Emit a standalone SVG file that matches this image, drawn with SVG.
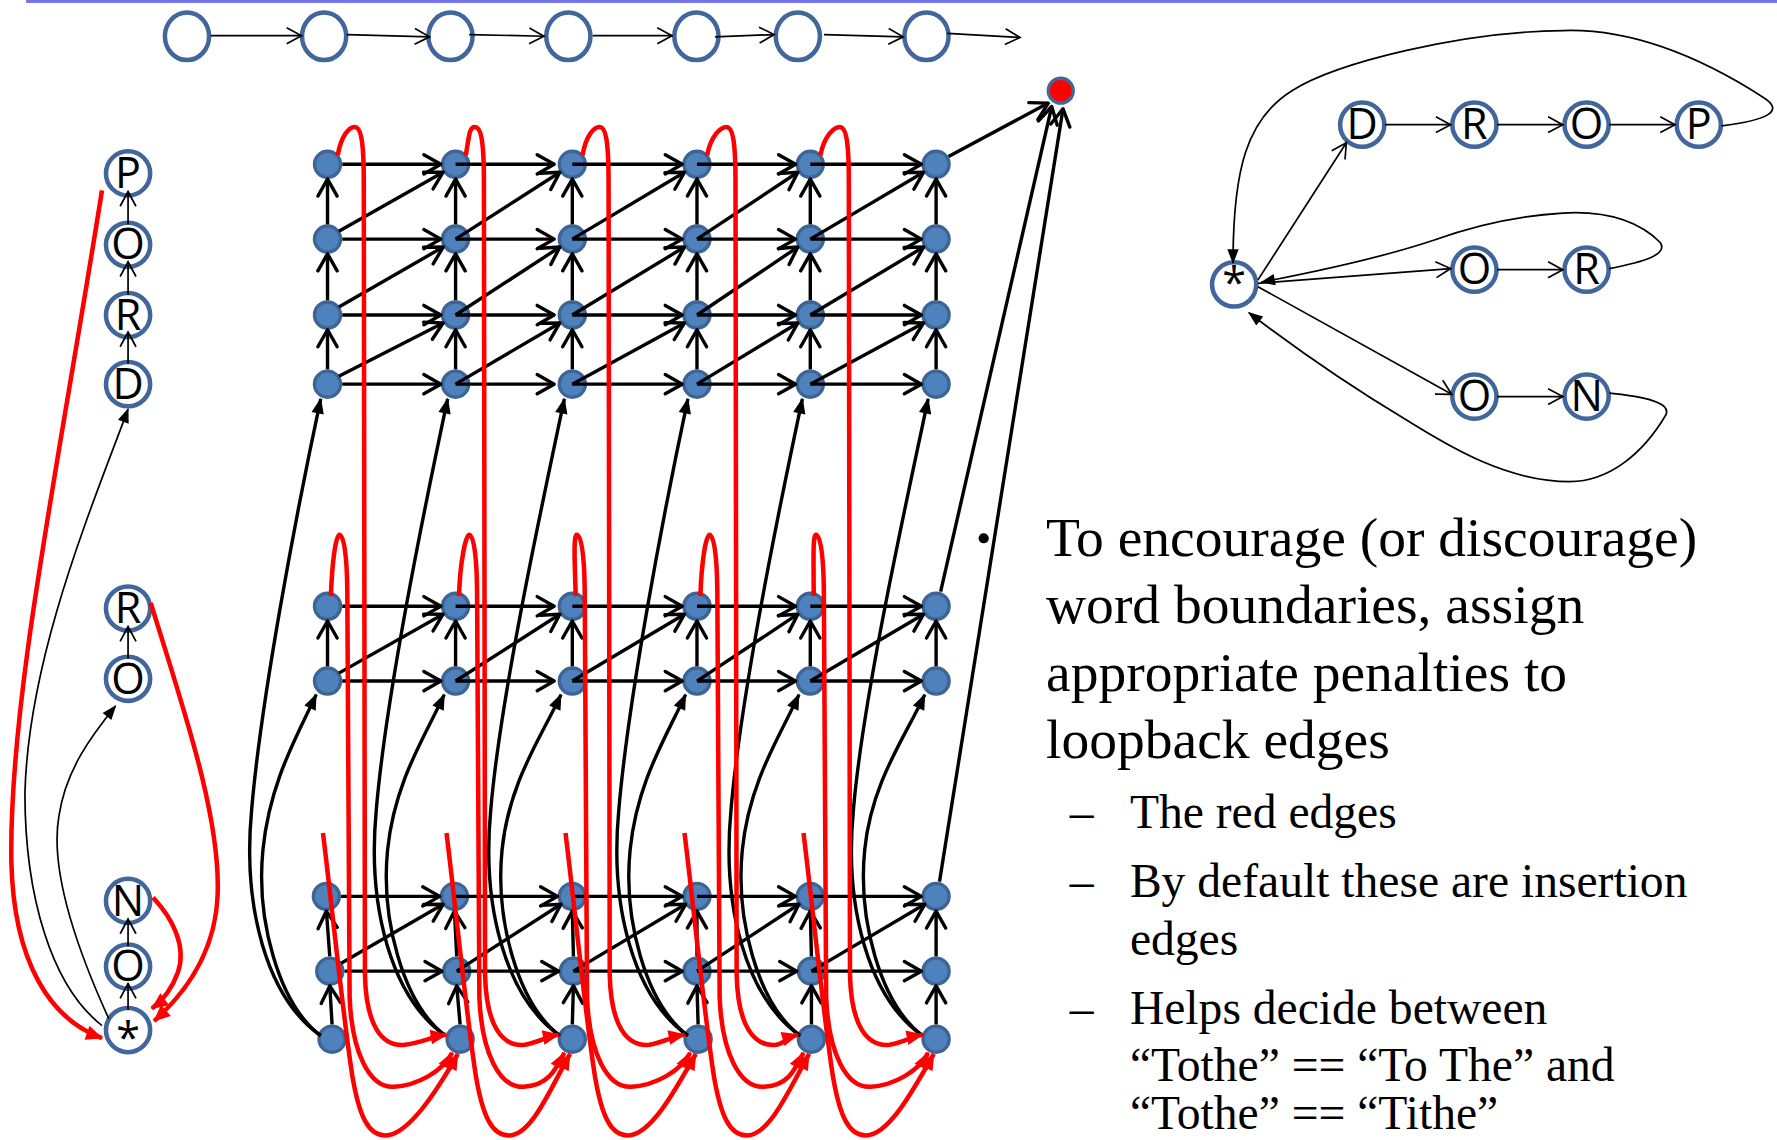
<svg xmlns="http://www.w3.org/2000/svg" width="1777" height="1140" viewBox="0 0 1777 1140">
<style>
.g{stroke:#000;stroke-width:3;fill:none;marker-end:url(#ov)}
.gc{stroke:#000;stroke-width:3;fill:none;marker-end:url(#fb)}
.r{stroke:#f00;stroke-width:4;fill:none;marker-end:url(#fr)}
.t{stroke:#000;stroke-width:1.5;fill:none;marker-end:url(#os)}
.tf{stroke:#000;stroke-width:1.5;fill:none;marker-end:url(#fs)}
.n{fill:#4F81BD;stroke:#3C6595;stroke-width:3}
.c{fill:#fff;stroke:#41669B;stroke-width:4}
.lt{font-family:"Open Sans","Liberation Sans",sans-serif;font-size:38px;text-anchor:middle;fill:#000}
.tx{font-family:"Liberation Serif","Times New Roman",serif;fill:#000}
</style>
<defs>
<marker id="ov" markerUnits="userSpaceOnUse" markerWidth="20" markerHeight="20" refX="16" refY="9" orient="auto" overflow="visible"><path d="M1,0.5 L16,9 L1,17.5" fill="none" stroke="#000" stroke-width="3" stroke-linecap="round" stroke-linejoin="round"/></marker>
<marker id="os" markerUnits="userSpaceOnUse" markerWidth="16" markerHeight="16" refX="13" refY="7" orient="auto" overflow="visible"><path d="M0,0 L13,7 L0,14" fill="none" stroke="#000" stroke-width="1.5"/></marker>
<marker id="fb" markerUnits="userSpaceOnUse" markerWidth="16" markerHeight="16" refX="13" refY="5.5" orient="auto" overflow="visible"><path d="M0,0 L14,5.5 L0,11 z" fill="#000"/></marker>
<marker id="fs" markerUnits="userSpaceOnUse" markerWidth="16" markerHeight="16" refX="12" refY="5" orient="auto" overflow="visible"><path d="M0,0 L13,5 L0,10 z" fill="#000"/></marker>
<marker id="fr" markerUnits="userSpaceOnUse" markerWidth="18" markerHeight="18" refX="14" refY="6.5" orient="auto" overflow="visible"><path d="M0,0 L15,6.5 L0,13 z" fill="#f00"/></marker>
</defs>
<rect width="1777" height="1140" fill="#fff"/>
<g transform="scale(1.13329,1.1332)">
<rect x="23" y="0" width="1545" height="2.6" fill="#7373F2"/>

<g id="nodes">
<g id="chain">
<ellipse class="c" cx="165" cy="32" rx="19.5" ry="21"/>
<ellipse class="c" cx="286" cy="32" rx="19.5" ry="21"/>
<ellipse class="c" cx="397.5" cy="32" rx="19.5" ry="21"/>
<ellipse class="c" cx="501.5" cy="32" rx="19.5" ry="21"/>
<ellipse class="c" cx="614.5" cy="32" rx="19.5" ry="21"/>
<ellipse class="c" cx="704" cy="32" rx="19.5" ry="21"/>
<ellipse class="c" cx="817.5" cy="32" rx="19.5" ry="21"/>
</g>
<g id="left-P"><circle class="c" cx="113" cy="153" r="19.5"/><text class="lt" x="113" y="166">P</text></g>
<g id="left-O1"><circle class="c" cx="113" cy="216" r="19.5"/><text class="lt" x="113" y="229">O</text></g>
<g id="left-R1"><circle class="c" cx="113" cy="278" r="19.5"/><text class="lt" x="113" y="291">R</text></g>
<g id="left-D"><circle class="c" cx="113" cy="339" r="19.5"/><text class="lt" x="113" y="352">D</text></g>
<g id="left-R2"><circle class="c" cx="113" cy="537" r="19.5"/><text class="lt" x="113" y="550">R</text></g>
<g id="left-O2"><circle class="c" cx="113" cy="599" r="19.5"/><text class="lt" x="113" y="612">O</text></g>
<g id="left-N"><circle class="c" cx="113" cy="795" r="19.5"/><text class="lt" x="113" y="808">N</text></g>
<g id="left-O3"><circle class="c" cx="113" cy="853" r="19.5"/><text class="lt" x="113" y="866">O</text></g>
<g id="left-star"><circle class="c" cx="113" cy="909" r="19.5"/><text class="lt" x="113" y="929">*</text></g>

<g id="tr-star"><circle class="c" cx="1089" cy="251" r="19.5"/><text class="lt" x="1089" y="263">*</text></g>
<g id="tr-D"><circle class="c" cx="1202" cy="110" r="19.5"/><text class="lt" x="1202" y="123">D</text></g>
<g id="tr-R1"><circle class="c" cx="1301" cy="110" r="19.5"/><text class="lt" x="1301" y="123">R</text></g>
<g id="tr-O1"><circle class="c" cx="1400" cy="110" r="19.5"/><text class="lt" x="1400" y="123">O</text></g>
<g id="tr-P"><circle class="c" cx="1499" cy="110" r="19.5"/><text class="lt" x="1499" y="123">P</text></g>
<g id="tr-O2"><circle class="c" cx="1301" cy="238" r="19.5"/><text class="lt" x="1301" y="251">O</text></g>
<g id="tr-R2"><circle class="c" cx="1400" cy="238" r="19.5"/><text class="lt" x="1400" y="251">R</text></g>
<g id="tr-O3"><circle class="c" cx="1301" cy="350" r="19.5"/><text class="lt" x="1301" y="363">O</text></g>
<g id="tr-N"><circle class="c" cx="1400" cy="350" r="19.5"/><text class="lt" x="1400" y="363">N</text></g>

<g id="final"><circle cx="936" cy="80" r="11" fill="#f00" stroke="#41669B" stroke-width="3"/></g>

<g id="grid-top">
<circle class="n" cx="289" cy="145" r="11.5"/><circle class="n" cx="402" cy="145" r="11.5"/><circle class="n" cx="505" cy="145" r="11.5"/><circle class="n" cx="615" cy="145" r="11.5"/><circle class="n" cx="715" cy="145" r="11.5"/><circle class="n" cx="826" cy="145" r="11.5"/>
<circle class="n" cx="289" cy="211" r="11.5"/><circle class="n" cx="402" cy="211" r="11.5"/><circle class="n" cx="505" cy="211" r="11.5"/><circle class="n" cx="615" cy="211" r="11.5"/><circle class="n" cx="715" cy="211" r="11.5"/><circle class="n" cx="826" cy="211" r="11.5"/>
<circle class="n" cx="289" cy="278" r="11.5"/><circle class="n" cx="402" cy="278" r="11.5"/><circle class="n" cx="505" cy="278" r="11.5"/><circle class="n" cx="615" cy="278" r="11.5"/><circle class="n" cx="715" cy="278" r="11.5"/><circle class="n" cx="826" cy="278" r="11.5"/>
<circle class="n" cx="289" cy="339" r="11.5"/><circle class="n" cx="402" cy="339" r="11.5"/><circle class="n" cx="505" cy="339" r="11.5"/><circle class="n" cx="615" cy="339" r="11.5"/><circle class="n" cx="715" cy="339" r="11.5"/><circle class="n" cx="826" cy="339" r="11.5"/>
</g>
<g id="grid-mid">
<circle class="n" cx="289" cy="535" r="11.5"/><circle class="n" cx="402" cy="535" r="11.5"/><circle class="n" cx="505" cy="535" r="11.5"/><circle class="n" cx="615" cy="535" r="11.5"/><circle class="n" cx="715" cy="535" r="11.5"/><circle class="n" cx="826" cy="535" r="11.5"/>
<circle class="n" cx="289" cy="601" r="11.5"/><circle class="n" cx="402" cy="601" r="11.5"/><circle class="n" cx="505" cy="601" r="11.5"/><circle class="n" cx="615" cy="601" r="11.5"/><circle class="n" cx="715" cy="601" r="11.5"/><circle class="n" cx="826" cy="601" r="11.5"/>
</g>
<g id="grid-bot">
<circle class="n" cx="288" cy="791" r="11.5"/><circle class="n" cx="401" cy="791" r="11.5"/><circle class="n" cx="505" cy="791" r="11.5"/><circle class="n" cx="615" cy="791" r="11.5"/><circle class="n" cx="715" cy="791" r="11.5"/><circle class="n" cx="826" cy="791" r="11.5"/>
<circle class="n" cx="291" cy="857" r="11.5"/><circle class="n" cx="403" cy="857" r="11.5"/><circle class="n" cx="506" cy="857" r="11.5"/><circle class="n" cx="615" cy="857" r="11.5"/><circle class="n" cx="716" cy="857" r="11.5"/><circle class="n" cx="826" cy="857" r="11.5"/>
<circle class="n" cx="293" cy="917" r="11.5"/><circle class="n" cx="406" cy="917" r="11.5"/><circle class="n" cx="505" cy="917" r="11.5"/><circle class="n" cx="616" cy="917" r="11.5"/><circle class="n" cx="716" cy="917" r="11.5"/><circle class="n" cx="826" cy="917" r="11.5"/>
</g>
</g>

<g id="connectors">
<path class="t" d="M186,31.5 L266,31.5"/>
<path class="t" d="M306,30.5 L379,32.5"/>
<path class="t" d="M414,30.5 L480,32"/>
<path class="t" d="M523,31.5 L593,31.5"/>
<path class="t" d="M631,32.5 L683,30.5"/>
<path class="t" d="M727,30.5 L797,32.5"/>
<path class="t" d="M836,29.5 L900,33"/>

<path class="t" d="M113,321 L113,293"/>
<path class="t" d="M113,260 L113,231"/>
<path class="t" d="M113,198 L113,169"/>
<path class="t" d="M113,581 L113,553"/>
<path class="t" d="M113,891 L113,868"/>
<path class="t" d="M113,835 L113,811"/>
<path class="tf" d="M90,905 C45,870 22,790 22,700 C25,580 80,450 113,361"/>
<path class="tf" d="M96,899 C60,820 45,760 52,720 C58,680 80,650 102,623"/>
<path class="r" d="M90,168 C50,420 8,620 10,760 C12,850 45,900 90,916"/>
<path class="r" d="M133,532 C160,620 195,720 192,790 C190,840 165,875 136,901"/>
<path class="r" d="M135,792 C152,810 165,835 157,858 C152,872 145,882 134,890"/>

<path class="t" d="M1222,110 L1280,110"/>
<path class="t" d="M1321,110 L1379,110"/>
<path class="t" d="M1420,110 L1478,110"/>
<path class="t" d="M1321,238 L1379,238"/>
<path class="t" d="M1321,350 L1379,350"/>
<path class="t" d="M1110,247 L1188,126"/>
<path class="t" d="M1110,250 L1280,237"/>
<path class="t" d="M1110,253 L1281,348"/>
<path class="tf" d="M1519,111 C1560,106 1575,98 1556,86 C1500,50 1440,25 1379,27 C1290,28 1180,55 1140,80 C1100,105 1088,150 1088,232"/>
<path class="tf" d="M1420,237 C1450,231 1472,225 1465,214 C1445,194 1415,186 1379,188 C1330,191 1290,203 1265,212 C1220,227 1160,240 1113,249"/>
<path class="tf" d="M1420,347 C1450,350 1475,355 1470,366 C1450,400 1420,425 1385,425 C1330,425 1280,395 1240,370 C1190,340 1140,305 1102,276"/>

<path class="g" d="M302,145 H389"/><path class="g" d="M402,145 H489"/><path class="g" d="M505,145 H602"/><path class="g" d="M615,145 H702"/><path class="g" d="M715,145 H813"/>
<path class="g" d="M302,211 H389"/><path class="g" d="M402,211 H489"/><path class="g" d="M505,211 H602"/><path class="g" d="M615,211 H702"/><path class="g" d="M715,211 H813"/>
<path class="g" d="M302,278 H389"/><path class="g" d="M402,278 H489"/><path class="g" d="M505,278 H602"/><path class="g" d="M615,278 H702"/><path class="g" d="M715,278 H813"/>
<path class="g" d="M302,339 H389"/><path class="g" d="M402,339 H489"/><path class="g" d="M505,339 H602"/><path class="g" d="M615,339 H702"/><path class="g" d="M715,339 H813"/>
<path class="g" d="M289,326 V291"/><path class="g" d="M289,265 V224"/><path class="g" d="M289,198 V158"/>
<path class="g" d="M402,326 V291"/><path class="g" d="M402,265 V224"/><path class="g" d="M402,198 V158"/>
<path class="g" d="M505,326 V291"/><path class="g" d="M505,265 V224"/><path class="g" d="M505,198 V158"/>
<path class="g" d="M615,326 V291"/><path class="g" d="M615,265 V224"/><path class="g" d="M615,198 V158"/>
<path class="g" d="M715,326 V291"/><path class="g" d="M715,265 V224"/><path class="g" d="M715,198 V158"/>
<path class="g" d="M826,326 V291"/><path class="g" d="M826,265 V224"/><path class="g" d="M826,198 V158"/>
<path class="g" d="M299,204 L391,152"/><path class="g" d="M299,271 L391,218"/><path class="g" d="M299,332 L391,285"/>
<path class="g" d="M402,211 L494,152"/><path class="g" d="M402,278 L494,218"/><path class="g" d="M402,339 L494,285"/>
<path class="g" d="M505,211 L604,152"/><path class="g" d="M505,278 L604,218"/><path class="g" d="M505,339 L604,285"/>
<path class="g" d="M615,211 L704,152"/><path class="g" d="M615,278 L704,218"/><path class="g" d="M615,339 L704,285"/>
<path class="g" d="M715,211 L815,152"/><path class="g" d="M715,278 L815,218"/><path class="g" d="M715,339 L815,285"/>

<path class="g" d="M302,535 H389"/><path class="g" d="M402,535 H489"/><path class="g" d="M505,535 H602"/><path class="g" d="M615,535 H702"/><path class="g" d="M715,535 H813"/>
<path class="g" d="M302,601 H389"/><path class="g" d="M402,601 H489"/><path class="g" d="M505,601 H602"/><path class="g" d="M615,601 H702"/><path class="g" d="M715,601 H813"/>
<path class="g" d="M289,588 V548"/><path class="g" d="M402,588 V548"/><path class="g" d="M505,588 V548"/><path class="g" d="M615,588 V548"/><path class="g" d="M715,588 V548"/><path class="g" d="M826,588 V548"/>
<path class="g" d="M299,594 L391,542"/><path class="g" d="M402,601 L494,542"/><path class="g" d="M505,601 L604,542"/><path class="g" d="M615,601 L704,542"/><path class="g" d="M715,601 L815,542"/>

<path class="g" d="M301,791 H388"/><path class="g" d="M401,791 H492"/><path class="g" d="M505,791 H602"/><path class="g" d="M615,791 H702"/><path class="g" d="M715,791 H813"/>
<path class="g" d="M304,857 H390"/><path class="g" d="M403,857 H493"/><path class="g" d="M506,857 H602"/><path class="g" d="M615,857 H703"/><path class="g" d="M716,857 H813"/>
<path class="g" d="M291,844 L288,804"/><path class="g" d="M403,844 L401,804"/><path class="g" d="M506,844 L505,804"/><path class="g" d="M615,844 L615,804"/><path class="g" d="M716,844 L715,804"/><path class="g" d="M826,844 L826,804"/>
<path class="g" d="M293,904 L291,870"/><path class="g" d="M406,904 L403,870"/><path class="g" d="M505,904 L506,870"/><path class="g" d="M616,904 L615,870"/><path class="g" d="M716,904 L716,870"/><path class="g" d="M826,904 L826,870"/>
<path class="g" d="M301,850 L391,798"/><path class="g" d="M403,857 L495,798"/><path class="g" d="M506,857 L605,798"/><path class="g" d="M615,857 L705,798"/><path class="g" d="M716,857 L816,798"/>

<path class="g" d="M837,138 L925,91"/>
<path class="g" d="M830,522 L928,94"/>
<path class="g" d="M829,778 L938,96"/>

<path class="gc" d="M283,914 C235,880 214,800 222,715 C230,620 260,460 283,352"/>
<path class="gc" d="M283,914 C245,885 226,810 232,750 C238,690 262,650 279,613"/>
<path class="gc" d="M393,914 C345,880 324,800 332,715 C340,620 372,460 395,352"/>
<path class="gc" d="M393,914 C355,885 336,810 342,750 C348,690 375,650 392,613"/>
<path class="gc" d="M494,914 C446,880 425,800 433,715 C441,620 475,460 498,352"/>
<path class="gc" d="M494,914 C456,885 437,810 443,750 C449,690 478,650 495,613"/>
<path class="gc" d="M607,914 C559,880 538,800 546,715 C554,620 584,460 607,352"/>
<path class="gc" d="M607,914 C569,885 550,810 556,750 C562,690 588,650 605,613"/>
<path class="gc" d="M706,914 C658,880 637,800 645,715 C653,620 685,460 708,352"/>
<path class="gc" d="M706,914 C668,885 649,810 655,750 C661,690 688,650 705,613"/>
<path class="gc" d="M814,914 C766,880 745,800 753,715 C761,620 796,460 819,352"/>
<path class="gc" d="M814,914 C776,885 757,810 763,750 C769,690 799,650 816,613"/>

<path class="r" d="M298,137 C301,120 308,112 313,112 C318,112 321,122 321,160 L322,860 C323,905 337,924 357,922 C372,920 381,915 394,913"/>
<path class="r" d="M411,137 C414,120 414,112 419,112 C424,112 427,122 427,160 L428,860 C429,905 443,924 463,922 C475,920 482,915 493,913"/>
<path class="r" d="M514,137 C517,120 524,112 529,112 C534,112 537,122 537,160 L538,860 C539,905 553,924 573,922 C585,920 593,915 604,913"/>
<path class="r" d="M624,137 C627,120 636,112 641,112 C646,112 649,122 649,160 L650,860 C651,905 665,924 685,922 C693,920 697,915 704,913"/>
<path class="r" d="M724,137 C727,120 736,112 741,112 C746,112 749,122 749,160 L750,860 C751,905 765,924 785,922 C797,920 804,915 814,913"/>
<path class="r" d="M292,526 C293,495 296.5,472 299.5,472 C303.5,472 306.5,490 306.5,530 L308.5,880 C310.5,930 326.5,960 347.5,959 C368.5,958 391,945 399,929"/>
<path class="r" d="M405,526 C406,495 411,472 414,472 C418,472 421,490 421,530 L423,880 C425,930 441,960 462,959 C483,958 490,945 498,929"/>
<path class="r" d="M508,526 C507,495 506,472 509,472 C513,472 516,490 516,530 L518,880 C520,930 536,960 557,959 C578,958 601,945 609,929"/>
<path class="r" d="M618,526 C619,495 623,472 626,472 C630,472 633,490 633,530 L635,880 C637,930 653,960 674,959 C695,958 701,945 709,929"/>
<path class="r" d="M718,526 C718,495 717,472 720,472 C724,472 727,490 727,530 L729,880 C731,930 747,960 768,959 C789,958 811,945 819,929"/>
<path class="r" d="M285,735 C293,800 303,900 311,950 C317,985 325,1002 340,1002 C360,1002 386,962 404,930"/>
<path class="r" d="M394,735 C402,800 412,900 420,950 C426,985 434,1002 449,1002 C469,1002 485,962 503,930"/>
<path class="r" d="M499,735 C507,800 517,900 525,950 C531,985 539,1002 554,1002 C574,1002 596,962 614,930"/>
<path class="r" d="M604,735 C612,800 622,900 630,950 C636,985 644,1002 659,1002 C679,1002 696,962 714,930"/>
<path class="r" d="M709,735 C717,800 727,900 735,950 C741,985 749,1002 764,1002 C784,1002 806,962 824,930"/>
</g>

<g id="text">
<circle cx="868" cy="475" r="4.5" fill="#000"/>
<text class="tx" font-size="49" x="923" y="491">To encourage (or discourage)</text>
<text class="tx" font-size="49" x="923" y="550">word boundaries, assign</text>
<text class="tx" font-size="49" x="923" y="610">appropriate penalties to</text>
<text class="tx" font-size="49" x="923" y="669">loopback edges</text>
<text class="tx" font-size="42" x="944" y="731">–</text>
<text class="tx" font-size="42" x="997" y="731">The red edges</text>
<text class="tx" font-size="42" x="944" y="792">–</text>
<text class="tx" font-size="42" x="997" y="792">By default these are insertion</text>
<text class="tx" font-size="42" x="997" y="843">edges</text>
<text class="tx" font-size="42" x="944" y="904">–</text>
<text class="tx" font-size="42" x="997" y="904">Helps decide between</text>
<text class="tx" font-size="42" x="997" y="954">“Tothe” == “To The” and</text>
<text class="tx" font-size="42" x="997" y="996">“Tothe” == “Tithe”</text>
</g>
</g>
</svg>
